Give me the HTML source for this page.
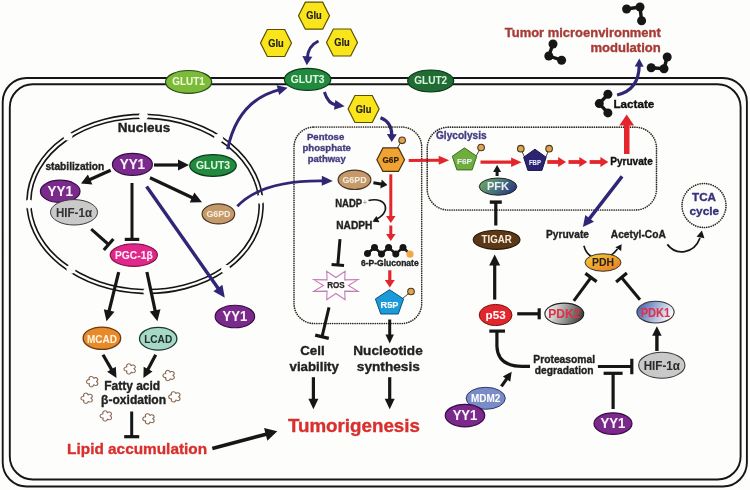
<!DOCTYPE html>
<html><head><meta charset="utf-8"><style>
html,body{margin:0;padding:0;background:#fdfdfb;}
svg{display:block;font-family:"Liberation Sans", sans-serif;will-change:transform;}
</style></head><body>
<svg width="750" height="490" viewBox="0 0 750 490" style='font-family:"Liberation Sans", sans-serif'>
<rect x="0" y="0" width="750" height="490" fill="#fdfdfb"/>
<rect x="2.7" y="78" width="744.2" height="408.5" rx="24" fill="none" stroke="#161616" stroke-width="1.9"/>
<rect x="9.8" y="84.3" width="730.8" height="395.2" rx="23" fill="none" stroke="#161616" stroke-width="1.9"/>
<ellipse cx="188.6" cy="81.9" rx="23.1" ry="11.4" fill="#7cba3a" stroke="#2a4a15" stroke-width="1.2"/>
<text x="188.6" y="85.2" font-size="10" fill="#eefad8" stroke="#eefad8" stroke-width="0.05" text-anchor="middle" font-weight="bold" textLength="32.5" lengthAdjust="spacingAndGlyphs">GLUT1</text>
<ellipse cx="307.6" cy="79.4" rx="23.2" ry="11" fill="#228a3e" stroke="#0a3a18" stroke-width="1.2"/>
<text x="307.6" y="82.7" font-size="10" fill="#e0f8e0" stroke="#e0f8e0" stroke-width="0.05" text-anchor="middle" font-weight="bold" textLength="33.6" lengthAdjust="spacingAndGlyphs">GLUT3</text>
<ellipse cx="430.7" cy="81" rx="23" ry="11" fill="#216b35" stroke="#0a3a18" stroke-width="1.2"/>
<text x="430.7" y="84.3" font-size="10" fill="#d8f4d8" stroke="#d8f4d8" stroke-width="0.05" text-anchor="middle" font-weight="bold" textLength="33" lengthAdjust="spacingAndGlyphs">GLUT2</text>
<polygon points="298.5,15.7 305.32,2.2 322.68,2.2 329.5,15.7 322.68,29.2 305.32,29.2" fill="#fae41a" stroke="#5a5000" stroke-width="1.2"/>
<text x="314" y="19.48" font-size="10.5" fill="#222" stroke="#222" stroke-width="0.2" text-anchor="middle" font-weight="bold" textLength="15.5" lengthAdjust="spacingAndGlyphs">Glu</text>
<polygon points="260.5,43 267.32,29.5 284.68,29.5 291.5,43 284.68,56.5 267.32,56.5" fill="#fae41a" stroke="#5a5000" stroke-width="1.2"/>
<text x="276" y="46.78" font-size="10.5" fill="#222" stroke="#222" stroke-width="0.2" text-anchor="middle" font-weight="bold" textLength="15.5" lengthAdjust="spacingAndGlyphs">Glu</text>
<polygon points="326.5,42.5 333.32,29 350.68,29 357.5,42.5 350.68,56 333.32,56" fill="#fae41a" stroke="#5a5000" stroke-width="1.2"/>
<text x="342" y="46.28" font-size="10.5" fill="#222" stroke="#222" stroke-width="0.2" text-anchor="middle" font-weight="bold" textLength="15.5" lengthAdjust="spacingAndGlyphs">Glu</text>
<polygon points="348.1,109 354.92,95.5 372.28,95.5 379.1,109 372.28,122.5 354.92,122.5" fill="#fae41a" stroke="#5a5000" stroke-width="1.2"/>
<text x="363.6" y="112.78" font-size="10.5" fill="#222" stroke="#222" stroke-width="0.2" text-anchor="middle" font-weight="bold" textLength="15.5" lengthAdjust="spacingAndGlyphs">Glu</text>
<mask id="nm" maskUnits="userSpaceOnUse" x="0" y="0" width="750" height="490"><rect width="750" height="490" fill="#fff"/><circle cx="140.22" cy="116.32" r="4.6" fill="#000"/><circle cx="65.44" cy="138.86" r="4.6" fill="#000"/><circle cx="29.18" cy="208.3" r="4.6" fill="#000"/><circle cx="73.48" cy="271.77" r="4.6" fill="#000"/><circle cx="150.96" cy="291.45" r="4.6" fill="#000"/><circle cx="228.01" cy="266.44" r="4.6" fill="#000"/><circle cx="260.26" cy="195.06" r="4.6" fill="#000"/><circle cx="216.15" cy="135.81" r="4.6" fill="#000"/></mask>
<g mask="url(#nm)" transform="rotate(2.08 145.0 203.9)"><ellipse cx="145.0" cy="203.9" rx="118.1" ry="89.5" fill="none" stroke="#161616" stroke-width="1.6"/><ellipse cx="145.0" cy="203.9" rx="114.2" ry="85.6" fill="none" stroke="#161616" stroke-width="1.6"/></g>
<text x="144" y="132.2" font-size="12.8" fill="#222" stroke="#222" stroke-width="0.35" text-anchor="middle" font-weight="bold" textLength="52.5" lengthAdjust="spacingAndGlyphs">Nucleus</text>
<line x1="110.7" y1="170.3" x2="88.3" y2="180.33" stroke="#161616" stroke-width="3.2"/>
<polygon points="81,183.6 87.88,174.49 92.37,184.53" fill="#161616"/>
<line x1="154" y1="165" x2="180.2" y2="165" stroke="#161616" stroke-width="3.2"/>
<polygon points="189,165 178,170.5 178,159.5" fill="#161616"/>
<line x1="150" y1="177.8" x2="194.03" y2="198.46" stroke="#161616" stroke-width="3.2"/>
<polygon points="202,202.2 189.71,202.51 194.38,192.55" fill="#161616"/>
<line x1="132" y1="183" x2="132" y2="239.4" stroke="#161616" stroke-width="3"/>
<line x1="124.75" y1="239.4" x2="139.25" y2="239.4" stroke="#161616" stroke-width="3.2"/>
<line x1="91.2" y1="229.2" x2="108.6" y2="244.5" stroke="#161616" stroke-width="3"/>
<line x1="103.81" y1="249.94" x2="113.39" y2="239.06" stroke="#161616" stroke-width="3.2"/>
<ellipse cx="132.4" cy="164.4" rx="20" ry="11" fill="#7a2a8a" stroke="#3a0a4a" stroke-width="1.2"/>
<text x="132.4" y="169.1" font-size="14.5" fill="#fcf4fc" stroke="#fcf4fc" stroke-width="0.05" text-anchor="middle" font-weight="bold" textLength="25.4" lengthAdjust="spacingAndGlyphs">YY1</text>
<text x="74.8" y="170.3" font-size="10.2" fill="#222" stroke="#222" stroke-width="0.35" text-anchor="middle" font-weight="bold" textLength="58.8" lengthAdjust="spacingAndGlyphs">stabilization</text>
<ellipse cx="60.2" cy="191.3" rx="19.8" ry="11.1" fill="#7a2a8a" stroke="#3a0a4a" stroke-width="1.2"/>
<text x="60.2" y="196" font-size="14.5" fill="#fcf4fc" stroke="#fcf4fc" stroke-width="0.05" text-anchor="middle" font-weight="bold" textLength="25.4" lengthAdjust="spacingAndGlyphs">YY1</text>
<ellipse cx="74" cy="212.3" rx="23.5" ry="12.7" fill="#c9c9c9" stroke="#3a3a3a" stroke-width="1"/>
<text x="74" y="216.6" font-size="12" fill="#333" stroke="#333" stroke-width="0.05" text-anchor="middle" font-weight="bold" textLength="36" lengthAdjust="spacingAndGlyphs">HIF-1α</text>
<ellipse cx="213" cy="165.5" rx="23.3" ry="10.8" fill="#228a3e" stroke="#0a3a18" stroke-width="1.2"/>
<text x="213" y="169.1" font-size="10.2" fill="#e0f8e0" stroke="#e0f8e0" stroke-width="0.05" text-anchor="middle" font-weight="bold" textLength="34" lengthAdjust="spacingAndGlyphs">GLUT3</text>
<ellipse cx="218.4" cy="213.9" rx="16.3" ry="10" fill="#c49a6a" stroke="#4a3520" stroke-width="1.2"/>
<text x="218.4" y="217.4" font-size="9.5" fill="#f8ece0" stroke="#f8ece0" stroke-width="0.05" text-anchor="middle" font-weight="bold" textLength="24" lengthAdjust="spacingAndGlyphs">G6PD</text>
<ellipse cx="133.8" cy="255.1" rx="23.6" ry="11.2" fill="#e0288a" stroke="#8a1048" stroke-width="1.2"/>
<text x="133.8" y="258.5" font-size="10" fill="#fff0f8" stroke="#fff0f8" stroke-width="0.05" text-anchor="middle" font-weight="bold" textLength="37.8" lengthAdjust="spacingAndGlyphs">PGC-1β</text>
<line x1="146.6" y1="186.5" x2="219.28" y2="289.95" stroke="#2f2676" stroke-width="3.4"/>
<polygon points="224.8,297.8 213.4,291.14 222.4,284.82" fill="#2f2676"/>
<ellipse cx="234.9" cy="316.5" rx="19.75" ry="11.25" fill="#7a2a8a" stroke="#3a0a4a" stroke-width="1.2"/>
<text x="234.9" y="320.9" font-size="14" fill="#fcf4fc" stroke="#fcf4fc" stroke-width="0.05" text-anchor="middle" font-weight="bold" textLength="24.8" lengthAdjust="spacingAndGlyphs">YY1</text>
<line x1="118.7" y1="272.2" x2="108.63" y2="312.66" stroke="#161616" stroke-width="3.2"/>
<polygon points="106.5,321.2 103.82,309.2 114.49,311.85" fill="#161616"/>
<line x1="146.9" y1="272" x2="155.56" y2="312.59" stroke="#161616" stroke-width="3.2"/>
<polygon points="157.4,321.2 149.73,311.59 160.48,309.29" fill="#161616"/>
<ellipse cx="101.9" cy="338.2" rx="18.8" ry="11.15" fill="#e8892a" stroke="#6a3a10" stroke-width="1.3"/>
<text x="101.9" y="342.5" font-size="11" fill="#fff4e0" stroke="#fff4e0" stroke-width="0.05" text-anchor="middle" font-weight="bold" textLength="30" lengthAdjust="spacingAndGlyphs">MCAD</text>
<ellipse cx="158.2" cy="338.7" rx="18.7" ry="11.35" fill="#a8d8c8" stroke="#1a3a30" stroke-width="1.3"/>
<text x="158.2" y="343" font-size="11" fill="#1a3028" stroke="#1a3028" stroke-width="0.05" text-anchor="middle" font-weight="bold" textLength="28" lengthAdjust="spacingAndGlyphs">LCAD</text>
<line x1="103" y1="354.7" x2="112.49" y2="371.08" stroke="#161616" stroke-width="3.2"/>
<polygon points="116.5,378 107.16,371.85 115.81,366.84" fill="#161616"/>
<line x1="155.7" y1="354.7" x2="147.13" y2="370.93" stroke="#161616" stroke-width="3.2"/>
<polygon points="143.4,378 143.65,366.82 152.49,371.49" fill="#161616"/>
<text x="132.2" y="390.2" font-size="12" fill="#222" stroke="#222" stroke-width="0.35" text-anchor="middle" font-weight="bold" textLength="56" lengthAdjust="spacingAndGlyphs">Fatty acid</text>
<text x="133.6" y="404" font-size="12" fill="#222" stroke="#222" stroke-width="0.35" text-anchor="middle" font-weight="bold" textLength="65" lengthAdjust="spacingAndGlyphs">β-oxidation</text>
<path transform="translate(92.5,381.6) scale(1.08,0.95)" d="M0.98,-3.15 A2.1,2.1 0 1 1 3.3,-0.05 A2.1,2.1 0 1 1 1.06,3.12 A2.1,2.1 0 1 1 -2.64,1.98 A2.1,2.1 0 1 1 -2.7,-1.9 A2.1,2.1 0 1 1 0.98,-3.15 Z" fill="#fff" stroke="#8a6a55" stroke-width="1.1"/>
<path transform="translate(130,368.9) scale(1.08,0.95)" d="M0.98,-3.15 A2.1,2.1 0 1 1 3.3,-0.05 A2.1,2.1 0 1 1 1.06,3.12 A2.1,2.1 0 1 1 -2.64,1.98 A2.1,2.1 0 1 1 -2.7,-1.9 A2.1,2.1 0 1 1 0.98,-3.15 Z" fill="#fff" stroke="#8a6a55" stroke-width="1.1"/>
<path transform="translate(169,375.5) scale(1.08,0.95)" d="M0.98,-3.15 A2.1,2.1 0 1 1 3.3,-0.05 A2.1,2.1 0 1 1 1.06,3.12 A2.1,2.1 0 1 1 -2.64,1.98 A2.1,2.1 0 1 1 -2.7,-1.9 A2.1,2.1 0 1 1 0.98,-3.15 Z" fill="#fff" stroke="#8a6a55" stroke-width="1.1"/>
<path transform="translate(87,398.2) scale(1.08,0.95)" d="M0.98,-3.15 A2.1,2.1 0 1 1 3.3,-0.05 A2.1,2.1 0 1 1 1.06,3.12 A2.1,2.1 0 1 1 -2.64,1.98 A2.1,2.1 0 1 1 -2.7,-1.9 A2.1,2.1 0 1 1 0.98,-3.15 Z" fill="#fff" stroke="#8a6a55" stroke-width="1.1"/>
<path transform="translate(174.7,396.8) scale(1.08,0.95)" d="M0.98,-3.15 A2.1,2.1 0 1 1 3.3,-0.05 A2.1,2.1 0 1 1 1.06,3.12 A2.1,2.1 0 1 1 -2.64,1.98 A2.1,2.1 0 1 1 -2.7,-1.9 A2.1,2.1 0 1 1 0.98,-3.15 Z" fill="#fff" stroke="#8a6a55" stroke-width="1.1"/>
<path transform="translate(106.2,415.9) scale(1.08,0.95)" d="M0.98,-3.15 A2.1,2.1 0 1 1 3.3,-0.05 A2.1,2.1 0 1 1 1.06,3.12 A2.1,2.1 0 1 1 -2.64,1.98 A2.1,2.1 0 1 1 -2.7,-1.9 A2.1,2.1 0 1 1 0.98,-3.15 Z" fill="#fff" stroke="#8a6a55" stroke-width="1.1"/>
<path transform="translate(148.8,418.8) scale(1.08,0.95)" d="M0.98,-3.15 A2.1,2.1 0 1 1 3.3,-0.05 A2.1,2.1 0 1 1 1.06,3.12 A2.1,2.1 0 1 1 -2.64,1.98 A2.1,2.1 0 1 1 -2.7,-1.9 A2.1,2.1 0 1 1 0.98,-3.15 Z" fill="#fff" stroke="#8a6a55" stroke-width="1.1"/>
<line x1="131.7" y1="411.5" x2="131.7" y2="436.7" stroke="#161616" stroke-width="3"/>
<line x1="124.2" y1="436.7" x2="139.2" y2="436.7" stroke="#161616" stroke-width="3.2"/>
<text x="137.1" y="454.2" font-size="15.5" fill="#d8302e" stroke="#d8302e" stroke-width="0.35" text-anchor="middle" font-weight="bold" textLength="140" lengthAdjust="spacingAndGlyphs">Lipid accumulation</text>
<line x1="212.3" y1="448.5" x2="268.02" y2="433.76" stroke="#161616" stroke-width="3.6"/>
<polygon points="277.3,431.3 267.36,440.65 264.04,428.09" fill="#161616"/>
<text x="353.9" y="432.2" font-size="18.5" fill="#d8302e" stroke="#d8302e" stroke-width="0.35" text-anchor="middle" font-weight="bold" textLength="132" lengthAdjust="spacingAndGlyphs">Tumorigenesis</text>
<path d="M318.5,41 Q308,46 307.25,58.11" fill="none" stroke="#2f2676" stroke-width="3"/>
<polygon points="306.8,65.3 302.37,56.01 312.35,56.63" fill="#2f2676"/>
<path d="M227.6,149.2 Q238,100 279.84,89.63" fill="none" stroke="#2f2676" stroke-width="3"/>
<polygon points="287.6,87.7 279.1,94.96 276.69,85.25" fill="#2f2676"/>
<path d="M324.4,92 Q328,104 336.67,105.15" fill="none" stroke="#2f2676" stroke-width="3"/>
<polygon points="344.6,106.2 334.03,109.84 335.34,99.93" fill="#2f2676"/>
<path d="M380.5,117.7 Q392,122 391.8,135.7" fill="none" stroke="#2f2676" stroke-width="3.2"/>
<polygon points="391.7,142.1 386.82,134.03 396.82,134.18" fill="#2f2676"/>
<path d="M237.3,206.3 Q262,180 324,180.88" fill="none" stroke="#2f2676" stroke-width="2.8"/>
<polygon points="332.8,181 321.73,185.84 321.87,175.85" fill="#2f2676"/>
<rect x="294" y="127" width="127.7" height="196.5" rx="20" fill="none" stroke="#2e2820" stroke-width="1.7" stroke-linecap="round" stroke-dasharray="0 2.25"/>
<text x="325.6" y="139.7" font-size="9.5" fill="#433e80" stroke="#433e80" stroke-width="0.35" text-anchor="middle" font-weight="bold" textLength="37.3" lengthAdjust="spacingAndGlyphs">Pentose</text>
<text x="326.7" y="151.1" font-size="9.5" fill="#433e80" stroke="#433e80" stroke-width="0.35" text-anchor="middle" font-weight="bold" textLength="48.5" lengthAdjust="spacingAndGlyphs">phosphate</text>
<text x="326.7" y="161.8" font-size="9.5" fill="#433e80" stroke="#433e80" stroke-width="0.35" text-anchor="middle" font-weight="bold" textLength="37.9" lengthAdjust="spacingAndGlyphs">pathway</text>
<ellipse cx="354.5" cy="179.8" rx="16.4" ry="9.7" fill="#c49a6a" stroke="#4a3520" stroke-width="1.2"/>
<text x="354.5" y="183.1" font-size="9" fill="#f8ece0" stroke="#f8ece0" stroke-width="0.05" text-anchor="middle" font-weight="bold" textLength="24" lengthAdjust="spacingAndGlyphs">G6PD</text>
<line x1="373.4" y1="182.7" x2="382.27" y2="184.22" stroke="#161616" stroke-width="3"/>
<polygon points="387.4,185.1 380.23,188.44 381.75,179.57" fill="#161616"/>
<line x1="397" y1="148.5" x2="402.1" y2="140.3" stroke="#444" stroke-width="1"/>
<circle cx="402.1" cy="140.3" r="3.3" fill="#e0a450" stroke="#4a3a20" stroke-width="1.1"/>
<polygon points="376.85,159.7 382.94,147.95 398.46,147.95 404.55,159.7 398.46,171.45 382.94,171.45" fill="#f1a332" stroke="#4a3010" stroke-width="1.2"/>
<text x="390.7" y="162.87" font-size="8.8" fill="#2a2010" stroke="#2a2010" stroke-width="0.2" text-anchor="middle" font-weight="bold" textLength="16.4" lengthAdjust="spacingAndGlyphs">G6P</text>
<line x1="408.7" y1="160.5" x2="440.8" y2="160.34" stroke="#e3262b" stroke-width="3"/>
<polygon points="449.2,160.3 438.72,164.85 438.68,155.85" fill="#e3262b"/>
<line x1="390.8" y1="174.3" x2="390.8" y2="217.4" stroke="#e3262b" stroke-width="3"/>
<polygon points="390.8,223 386.05,216 395.55,216" fill="#e3262b"/>
<line x1="390.8" y1="225.5" x2="390.8" y2="235.4" stroke="#e3262b" stroke-width="3"/>
<polygon points="390.8,241 386.05,234 395.55,234" fill="#e3262b"/>
<text x="348.7" y="206.6" font-size="10" fill="#222" stroke="#222" stroke-width="0.35" text-anchor="middle" font-weight="bold" textLength="27" lengthAdjust="spacingAndGlyphs">NADP</text>
<text x="365" y="204.5" font-size="7.5" fill="#777" stroke="#777" stroke-width="0" text-anchor="middle" font-weight="normal">+</text>
<path d="M368.5,200.5 C388,196 392,214 374,220" fill="none" stroke="#161616" stroke-width="1.6"/>
<polygon points="372.5,221.8 376.39,216.07 379.4,222.37" fill="#161616"/>
<text x="354.3" y="229.3" font-size="10" fill="#222" stroke="#222" stroke-width="0.35" text-anchor="middle" font-weight="bold" textLength="36" lengthAdjust="spacingAndGlyphs">NADPH</text>
<path d="M367.5,253.5 L374.5,247.5 L381.5,253.9 L388.6,247.5 L395.8,253.9 L403,247.5" fill="none" stroke="#161616" stroke-width="2.5"/>
<line x1="403" y1="247.5" x2="409.8" y2="253.9" stroke="#222" stroke-width="2.5"/>
<circle cx="367.5" cy="253.5" r="3.5" fill="#161616"/>
<circle cx="374.5" cy="247.5" r="3.5" fill="#161616"/>
<circle cx="381.5" cy="253.9" r="3.5" fill="#161616"/>
<circle cx="388.6" cy="247.5" r="3.5" fill="#161616"/>
<circle cx="395.8" cy="253.9" r="3.5" fill="#161616"/>
<circle cx="403" cy="247.5" r="3.5" fill="#161616"/>
<circle cx="410" cy="254.2" r="3.6" fill="#f0a848"/>
<text x="389.8" y="265.8" font-size="8.5" fill="#222" stroke="#222" stroke-width="0.35" text-anchor="middle" font-weight="bold" textLength="57.7" lengthAdjust="spacingAndGlyphs">6-P-Gluconate</text>
<line x1="389.8" y1="270.3" x2="389.8" y2="281.4" stroke="#e3262b" stroke-width="3.2"/>
<polygon points="389.8,287.4 384.8,279.9 394.8,279.9" fill="#e3262b"/>
<line x1="402" y1="299" x2="411" y2="291.5" stroke="#444" stroke-width="1"/>
<circle cx="411" cy="291.5" r="3.3" fill="#e0a450" stroke="#4a3a20" stroke-width="1.1"/>
<polygon points="389.5,289.7 403.6,298.93 398.24,314 380.76,314 375.4,298.93" fill="#1a9bd8" stroke="#0a5080" stroke-width="1"/>
<text x="389.5" y="307.83" font-size="8.5" fill="#fff" stroke="#fff" stroke-width="0.1" text-anchor="middle" font-weight="bold" textLength="18" lengthAdjust="spacingAndGlyphs">R5P</text>
<line x1="340" y1="239.2" x2="337.8" y2="265" stroke="#161616" stroke-width="3"/>
<line x1="331.57" y1="264.47" x2="344.03" y2="265.53" stroke="#161616" stroke-width="3.2"/>
<polygon points="345.08,271.27 344.72,279.84 358.07,279.61 348.38,285.5 358.07,291.39 344.72,291.16 345.08,299.73 335.9,293.51 326.72,299.73 327.08,291.16 313.73,291.39 323.42,285.5 313.73,279.61 327.08,279.84 326.72,271.27 335.9,277.49" fill="#fff" stroke="#c67ab6" stroke-width="1.1"/>
<text x="336" y="288.3" font-size="8.8" fill="#222" stroke="#222" stroke-width="0.25" text-anchor="middle" font-weight="bold" textLength="17.5" lengthAdjust="spacingAndGlyphs">ROS</text>
<line x1="329" y1="307.3" x2="322" y2="336.8" stroke="#161616" stroke-width="3"/>
<line x1="315.19" y1="335.18" x2="328.81" y2="338.42" stroke="#161616" stroke-width="3.2"/>
<line x1="389.7" y1="319.5" x2="389.7" y2="336.3" stroke="#161616" stroke-width="3"/>
<polygon points="389.7,343.5 385.45,334.5 393.95,334.5" fill="#161616"/>
<text x="312.4" y="355" font-size="12.8" fill="#222" stroke="#222" stroke-width="0.35" text-anchor="middle" font-weight="bold" textLength="24.5" lengthAdjust="spacingAndGlyphs">Cell</text>
<text x="314.2" y="371.2" font-size="13.3" fill="#222" stroke="#222" stroke-width="0.35" text-anchor="middle" font-weight="bold" textLength="49.4" lengthAdjust="spacingAndGlyphs">viability</text>
<text x="388" y="355" font-size="13.5" fill="#222" stroke="#222" stroke-width="0.35" text-anchor="middle" font-weight="bold" textLength="69.4" lengthAdjust="spacingAndGlyphs">Nucleotide</text>
<text x="388.3" y="371.2" font-size="13.5" fill="#222" stroke="#222" stroke-width="0.35" text-anchor="middle" font-weight="bold" textLength="63" lengthAdjust="spacingAndGlyphs">synthesis</text>
<line x1="313.4" y1="377.2" x2="313.4" y2="400.9" stroke="#161616" stroke-width="3.2"/>
<polygon points="313.4,409.3 308.4,398.8 318.4,398.8" fill="#161616"/>
<line x1="389.7" y1="377.2" x2="389.7" y2="400.9" stroke="#161616" stroke-width="3.2"/>
<polygon points="389.7,409.3 384.7,398.8 394.7,398.8" fill="#161616"/>
<rect x="427.2" y="127.2" width="229.3" height="82.8" rx="21" fill="none" stroke="#2e2820" stroke-width="1.7" stroke-linecap="round" stroke-dasharray="0 2.25"/>
<text x="436" y="138.5" font-size="10.1" fill="#433e80" stroke="#433e80" stroke-width="0.35" text-anchor="start" font-weight="bold" textLength="50.6" lengthAdjust="spacingAndGlyphs">Glycolysis</text>
<line x1="476" y1="156" x2="481.1" y2="147.5" stroke="#444" stroke-width="1"/>
<circle cx="481.1" cy="147.5" r="3.3" fill="#e0a450" stroke="#4a3a20" stroke-width="1.1"/>
<polygon points="464.5,147.9 476.75,156.26 472.1,169.9 456.9,169.9 452.25,156.26" fill="#6fae3c" stroke="#3a6a20" stroke-width="1"/>
<text x="464.5" y="164.42" font-size="8" fill="#eef" stroke="#eef" stroke-width="0.1" text-anchor="middle" font-weight="bold" textLength="15" lengthAdjust="spacingAndGlyphs">F6P</text>
<line x1="480.5" y1="162.2" x2="513.2" y2="162.2" stroke="#e3262b" stroke-width="3.2"/>
<polygon points="521.6,162.2 511.1,166.95 511.1,157.45" fill="#e3262b"/>
<line x1="524.5" y1="157" x2="520.8" y2="148.7" stroke="#444" stroke-width="1"/>
<circle cx="520.8" cy="148.7" r="3.3" fill="#e0a450" stroke="#4a3a20" stroke-width="1.1"/>
<line x1="546" y1="157" x2="549.1" y2="148.7" stroke="#444" stroke-width="1"/>
<circle cx="549.1" cy="148.7" r="3.3" fill="#e0a450" stroke="#4a3a20" stroke-width="1.1"/>
<polygon points="534.9,149.2 546.15,157.26 541.88,170.4 527.92,170.4 523.65,157.26" fill="#2c2472" stroke="#15134a" stroke-width="1"/>
<text x="534.9" y="164.86" font-size="7" fill="#eef" stroke="#eef" stroke-width="0.1" text-anchor="middle" font-weight="bold" textLength="12" lengthAdjust="spacingAndGlyphs">FBP</text>
<line x1="547.3" y1="162" x2="559.7" y2="162" stroke="#e3262b" stroke-width="3.8"/>
<polygon points="566.1,162 558.1,167 558.1,157" fill="#e3262b"/>
<line x1="568.5" y1="162" x2="580.9" y2="162" stroke="#e3262b" stroke-width="3.8"/>
<polygon points="587.3,162 579.3,167 579.3,157" fill="#e3262b"/>
<line x1="589.6" y1="162" x2="602" y2="162" stroke="#e3262b" stroke-width="3.8"/>
<polygon points="608.4,162 600.4,167 600.4,157" fill="#e3262b"/>
<text x="631.5" y="165.3" font-size="10.2" fill="#111" stroke="#111" stroke-width="0.35" text-anchor="middle" font-weight="bold" textLength="42.5" lengthAdjust="spacingAndGlyphs">Pyruvate</text>
<line x1="497.1" y1="176" x2="497.1" y2="170.6" stroke="#161616" stroke-width="3"/>
<polygon points="497.1,165 501.1,172 493.1,172" fill="#161616"/>
<defs><linearGradient id="pfk" x1="0" y1="0.3" x2="1" y2="0.7"><stop offset="0" stop-color="#6aa860"/><stop offset="0.45" stop-color="#4a7a78"/><stop offset="1" stop-color="#2a3480"/></linearGradient></defs>
<ellipse cx="498" cy="186.6" rx="18.75" ry="8.6" fill="url(#pfk)" stroke="#222" stroke-width="1"/>
<text x="498" y="190.4" font-size="10.5" fill="#eef" stroke="#eef" stroke-width="0.05" text-anchor="middle" font-weight="bold" textLength="22" lengthAdjust="spacingAndGlyphs">PFK</text>
<line x1="495.8" y1="225.5" x2="495.8" y2="202.1" stroke="#161616" stroke-width="3.2"/>
<line x1="501.8" y1="202.1" x2="489.8" y2="202.1" stroke="#161616" stroke-width="3.4"/>
<rect x="624" y="124" width="5.5" height="30" fill="#e3262b"/>
<polygon points="626.7,114.4 619.3,125.5 634.1,125.5" fill="#e3262b"/>
<line x1="622.1" y1="176.4" x2="588.28" y2="220.14" stroke="#2f2676" stroke-width="3.4"/>
<polygon points="582.9,227.1 585.28,215.03 593.98,221.76" fill="#2f2676"/>
<text x="660.8" y="36.8" font-size="13" fill="#a53a36" stroke="#a53a36" stroke-width="0.35" text-anchor="end" font-weight="bold" textLength="156" lengthAdjust="spacingAndGlyphs">Tumor microenvironment</text>
<text x="660.8" y="51.8" font-size="13" fill="#a53a36" stroke="#a53a36" stroke-width="0.35" text-anchor="end" font-weight="bold" textLength="70.4" lengthAdjust="spacingAndGlyphs">modulation</text>
<path d="M626.6,9 L640,7 L641.6,20.8" fill="none" stroke="#161616" stroke-width="3.4"/>
<circle cx="626.6" cy="9" r="4.5" fill="#161616"/>
<circle cx="640" cy="7" r="4.5" fill="#161616"/>
<circle cx="641.6" cy="20.8" r="4.5" fill="#161616"/>
<path d="M553,44 L548.8,56 L561.6,60.2" fill="none" stroke="#161616" stroke-width="3.4"/>
<circle cx="553" cy="44" r="4.5" fill="#161616"/>
<circle cx="548.8" cy="56" r="4.5" fill="#161616"/>
<circle cx="561.6" cy="60.2" r="4.5" fill="#161616"/>
<path d="M667.2,57 L664,68.8 L651.2,67.8" fill="none" stroke="#161616" stroke-width="3.4"/>
<circle cx="667.2" cy="57" r="4.5" fill="#161616"/>
<circle cx="664" cy="68.8" r="4.5" fill="#161616"/>
<circle cx="651.2" cy="67.8" r="4.5" fill="#161616"/>
<path d="M607.9,94.3 L599.3,103.6 L607.9,112.9" fill="none" stroke="#161616" stroke-width="3.4"/>
<circle cx="607.9" cy="94.3" r="4.5" fill="#161616"/>
<circle cx="599.3" cy="103.6" r="4.5" fill="#161616"/>
<circle cx="607.9" cy="112.9" r="4.5" fill="#161616"/>
<text x="613.5" y="108.4" font-size="11.3" fill="#111" stroke="#111" stroke-width="0.35" text-anchor="start" font-weight="bold" textLength="40.8" lengthAdjust="spacingAndGlyphs">Lactate</text>
<path d="M617.1,95 Q639,90 639.24,65" fill="none" stroke="#2f2676" stroke-width="3.2"/>
<polygon points="639.3,58.6 643.72,66.64 634.72,66.56" fill="#2f2676"/>
<ellipse cx="496.6" cy="239.8" rx="23.4" ry="9.6" fill="#5a3818" stroke="#2a1808" stroke-width="1.1"/>
<text x="496.6" y="243.3" font-size="10.5" fill="#f8ecd8" stroke="#f8ecd8" stroke-width="0.05" text-anchor="middle" font-weight="bold" textLength="30.2" lengthAdjust="spacingAndGlyphs">TIGAR</text>
<line x1="494.7" y1="299.6" x2="494.7" y2="263.3" stroke="#161616" stroke-width="3.2"/>
<polygon points="494.7,254.5 500.2,265.5 489.2,265.5" fill="#161616"/>
<text x="567.5" y="238" font-size="11" fill="#222" stroke="#222" stroke-width="0.35" text-anchor="middle" font-weight="bold" textLength="43" lengthAdjust="spacingAndGlyphs">Pyruvate</text>
<text x="638.3" y="238" font-size="10.5" fill="#222" stroke="#222" stroke-width="0.35" text-anchor="middle" font-weight="bold" textLength="55" lengthAdjust="spacingAndGlyphs">Acetyl-CoA</text>
<path d="M583.9,245.8 C588,262 608,262 617.5,249" fill="none" stroke="#161616" stroke-width="1.6"/>
<polygon points="621.6,244.2 621.21,251.1 615.4,247.25" fill="#161616"/>
<defs><linearGradient id="pdh" x1="0" y1="0" x2="1" y2="1"><stop offset="0" stop-color="#f8cc3a"/><stop offset="1" stop-color="#e8781e"/></linearGradient></defs>
<ellipse cx="603" cy="262.5" rx="18" ry="8.75" fill="url(#pdh)" stroke="#333" stroke-width="1"/>
<text x="603" y="266.3" font-size="10.5" fill="#222" stroke="#222" stroke-width="0.05" text-anchor="middle" font-weight="bold" textLength="22" lengthAdjust="spacingAndGlyphs">PDH</text>
<circle cx="704" cy="205.5" r="22" fill="none" stroke="#2e2820" stroke-width="1.7" stroke-linecap="round" stroke-dasharray="0 2.25"/>
<text x="704" y="201" font-size="11.5" fill="#37327a" stroke="#37327a" stroke-width="0.35" text-anchor="middle" font-weight="bold" textLength="24" lengthAdjust="spacingAndGlyphs">TCA</text>
<text x="704.3" y="215" font-size="11.5" fill="#37327a" stroke="#37327a" stroke-width="0.35" text-anchor="middle" font-weight="bold" textLength="29.7" lengthAdjust="spacingAndGlyphs">cycle</text>
<path d="M667.3,244.4 C676,256 694,254 700,238" fill="none" stroke="#161616" stroke-width="1.8"/>
<polygon points="701.9,230.6 704.42,238.26 696.58,236.66" fill="#161616"/>
<ellipse cx="495.6" cy="315" rx="16.4" ry="10.6" fill="#e3262b" stroke="#7a1010" stroke-width="1"/>
<text x="495.6" y="319.2" font-size="11.5" fill="#fff" stroke="#fff" stroke-width="0.05" text-anchor="middle" font-weight="bold" textLength="20" lengthAdjust="spacingAndGlyphs">p53</text>
<line x1="517.2" y1="313.8" x2="539.2" y2="313.8" stroke="#161616" stroke-width="3.2"/>
<line x1="539.2" y1="319.3" x2="539.2" y2="308.3" stroke="#161616" stroke-width="3.2"/>
<defs><linearGradient id="pdk2" x1="0" y1="0.4" x2="1" y2="0.6"><stop offset="0" stop-color="#fcfcfc"/><stop offset="0.5" stop-color="#a0a0a0"/><stop offset="1" stop-color="#3a3a3a"/></linearGradient><linearGradient id="pdk1" x1="0" y1="0" x2="1" y2="0.3"><stop offset="0" stop-color="#3558a8"/><stop offset="1" stop-color="#f4f4fa"/></linearGradient></defs>
<ellipse cx="564.3" cy="313.8" rx="19.4" ry="10.7" fill="url(#pdk2)" stroke="#222" stroke-width="1.1"/>
<text x="564.3" y="318.1" font-size="12" fill="#d83444" stroke="#d83444" stroke-width="0.05" text-anchor="middle" font-weight="bold" textLength="32" lengthAdjust="spacingAndGlyphs">PDK2</text>
<ellipse cx="655.5" cy="312.1" rx="18.6" ry="10.9" fill="url(#pdk1)" stroke="#333" stroke-width="1.1"/>
<text x="655.5" y="316.5" font-size="12" fill="#e0304a" stroke="#e0304a" stroke-width="0.05" text-anchor="middle" font-weight="bold" textLength="29.6" lengthAdjust="spacingAndGlyphs">PDK1</text>
<line x1="573.8" y1="300.8" x2="591" y2="277.5" stroke="#161616" stroke-width="3"/>
<line x1="596.63" y1="281.66" x2="585.37" y2="273.34" stroke="#161616" stroke-width="3.2"/>
<line x1="640" y1="299.7" x2="621.5" y2="277.5" stroke="#161616" stroke-width="3"/>
<line x1="626.88" y1="273.02" x2="616.12" y2="281.98" stroke="#161616" stroke-width="3.2"/>
<line x1="656.9" y1="351" x2="656.9" y2="333.9" stroke="#161616" stroke-width="3.4"/>
<polygon points="656.9,326.3 661.65,335.8 652.15,335.8" fill="#161616"/>
<path d="M496.9,331 L496.9,346 Q497.5,366.3 522,366.3 L530,366.3" fill="none" stroke="#161616" stroke-width="3.2"/>
<line x1="489.3" y1="331.1" x2="505" y2="331.1" stroke="#161616" stroke-width="3.2"/>
<text x="564.2" y="363" font-size="10.3" fill="#222" stroke="#222" stroke-width="0.35" text-anchor="middle" font-weight="bold" textLength="61.7" lengthAdjust="spacingAndGlyphs">Proteasomal</text>
<text x="564.2" y="374.3" font-size="10.3" fill="#222" stroke="#222" stroke-width="0.35" text-anchor="middle" font-weight="bold" textLength="58.7" lengthAdjust="spacingAndGlyphs">degradation</text>
<line x1="597.9" y1="366.5" x2="631.8" y2="366.5" stroke="#161616" stroke-width="3.2"/>
<line x1="631.8" y1="374.25" x2="631.8" y2="358.75" stroke="#161616" stroke-width="3.2"/>
<ellipse cx="661.8" cy="365.2" rx="23.15" ry="13" fill="#c9c9c9" stroke="#3a3a3a" stroke-width="1.1"/>
<text x="661.8" y="369.6" font-size="12.5" fill="#2a2a2a" stroke="#2a2a2a" stroke-width="0.05" text-anchor="middle" font-weight="bold" textLength="36.3" lengthAdjust="spacingAndGlyphs">HIF-1α</text>
<line x1="501.4" y1="386.4" x2="507.57" y2="377.6" stroke="#161616" stroke-width="3.2"/>
<polygon points="511.7,371.7 510.22,381.65 502.85,376.49" fill="#161616"/>
<ellipse cx="485.7" cy="398.3" rx="19.6" ry="11" fill="#7a8cc8" stroke="#2a3a6a" stroke-width="1"/>
<text x="485.7" y="402" font-size="10.2" fill="#fff" stroke="#fff" stroke-width="0.05" text-anchor="middle" font-weight="bold" textLength="29.3" lengthAdjust="spacingAndGlyphs">MDM2</text>
<ellipse cx="465" cy="415.6" rx="19.75" ry="11.3" fill="#7a2a8a" stroke="#3a0a4a" stroke-width="1.2"/>
<text x="465" y="420.2" font-size="14" fill="#fcf4fc" stroke="#fcf4fc" stroke-width="0.05" text-anchor="middle" font-weight="bold" textLength="24.7" lengthAdjust="spacingAndGlyphs">YY1</text>
<line x1="613.1" y1="409" x2="613.1" y2="373.3" stroke="#161616" stroke-width="3.2"/>
<line x1="622.6" y1="373.3" x2="603.6" y2="373.3" stroke="#161616" stroke-width="3.2"/>
<ellipse cx="613" cy="423.6" rx="19" ry="10.8" fill="#7a2a8a" stroke="#3a0a4a" stroke-width="1.2"/>
<text x="613" y="428.2" font-size="14" fill="#fcf4fc" stroke="#fcf4fc" stroke-width="0.05" text-anchor="middle" font-weight="bold" textLength="24.8" lengthAdjust="spacingAndGlyphs">YY1</text>
</svg>
</body></html>
